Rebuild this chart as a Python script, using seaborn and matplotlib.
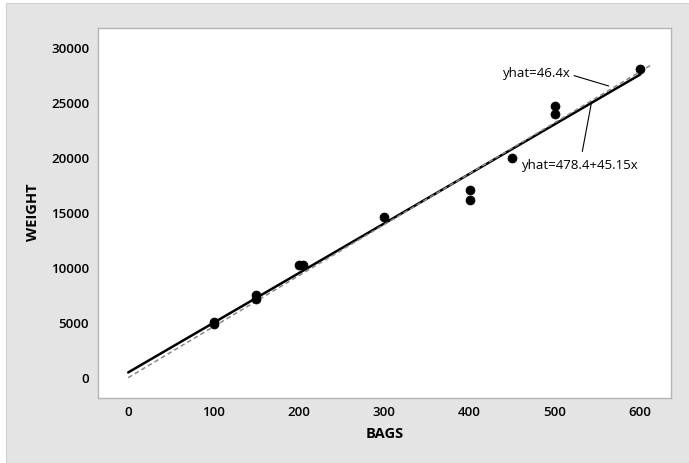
import numpy as np
import pandas as pd
import matplotlib
matplotlib.use("Agg")
import matplotlib.pyplot as plt
from matplotlib.patches import Rectangle
import seaborn as sns

# data
bags = [100, 100, 150, 150, 200, 205, 300, 400, 400, 450, 500, 500, 600]
weight = [5090, 4850, 7500, 7150, 10250, 10250, 14570, 17030, 16130, 20000, 24700, 24000, 28030]

# fitted coefficients shown in the chart
fit_intercept = 478.4
fit_slope = 45.15
origin_slope = 46.4

x_ticks = [0, 100, 200, 300, 400, 500, 600]
y_ticks = [0, 5000, 10000, 15000, 20000, 25000, 30000]

df = pd.DataFrame({"BAGS": bags, "WEIGHT": weight})

sns.set_theme(style="white")
plt.rcParams["font.family"] = ["Open Sans", "DejaVu Sans"]
plt.rcParams["text.color"] = "black"
plt.rcParams["axes.labelcolor"] = "black"
plt.rcParams["xtick.labelcolor"] = "black"
plt.rcParams["ytick.labelcolor"] = "black"

fig = plt.figure(figsize=(6.89, 4.63), dpi=100)
fig.patch.set_facecolor("white")
fig.patches.append(Rectangle((6 / 689, 0), 1, (463 - 3) / 463, transform=fig.transFigure,
                             facecolor="#e4e4e4", edgecolor="#d0d0d0", lw=0.8, zorder=-5))

ax = fig.add_axes([97.5 / 689, 1 - 397.7 / 463, (671 - 97.5) / 689, (397.7 - 27.7) / 463])
ax.set_facecolor("white")

# regression lines
xf = np.array([0, 600])
ax.plot(xf, fit_intercept + fit_slope * xf, color="black", lw=1.8, zorder=2)
xo = np.array([0, 613])
ax.plot(xo, origin_slope * xo, color="#888888", lw=1.1, ls=(0, (3, 2)), zorder=3)

sns.scatterplot(data=df, x="BAGS", y="WEIGHT", ax=ax, color="black", s=42,
                edgecolor="black", linewidth=0.5, zorder=4)

ax.set_xlim(-36, 636)
ax.set_ylim(-1820, 31820)
ax.set_xticks(x_ticks)
ax.set_yticks(y_ticks)
ax.tick_params(axis="both", length=3, width=0.8, color="#b0b0b0", labelsize=9.5,
               labelcolor="black", pad=3)
for lab in ax.get_xticklabels() + ax.get_yticklabels():
    lab.set_fontweight("semibold")
for sp in ax.spines.values():
    sp.set_color("#b4b4b4")
    sp.set_linewidth(1.0)

ax.set_xlabel("BAGS", fontsize=10.5, fontweight="bold", labelpad=6, color="black")
ax.set_ylabel("WEIGHT", fontsize=10.5, fontweight="bold", labelpad=8, color="black")

# annotations
ax.annotate("yhat=46.4x", xy=(563, 26520), xytext=(439, 27700), fontsize=9.5,
            va="center", ha="left", color="black",
            arrowprops=dict(arrowstyle="-", color="black", lw=0.8,
                            shrinkA=0, shrinkB=0, relpos=(1.05, 0.3)))
ax.annotate("yhat=478.4+45.15x", xy=(543, 25090), xytext=(461, 19270), fontsize=9.5,
            va="center", ha="left", color="black",
            arrowprops=dict(arrowstyle="-", color="black", lw=0.8,
                            shrinkA=0, shrinkB=0, relpos=(0.52, 1.6)))

fig.savefig("out.png", dpi=100)
